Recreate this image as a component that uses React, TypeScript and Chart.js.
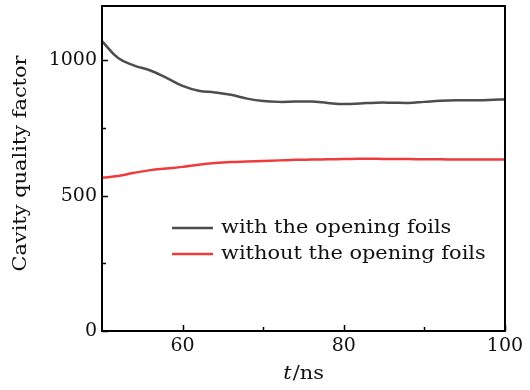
import React, { useEffect, useRef } from "react";
import { Chart, registerables } from "chart.js";

Chart.register(...registerables);

// Time samples (ns) and cavity quality factor for the two configurations
const tValues = [50, 52, 54, 56, 58, 60, 62, 64, 66, 68, 70, 72, 74, 76, 78, 80, 82, 84, 86, 88, 90, 92, 94, 96, 98, 100];
const withFoils = [1070, 1008, 980, 962, 935, 905, 887, 881, 872, 858, 849, 846, 847, 847, 842, 838, 840, 843, 843, 842, 846, 850, 852, 852, 853, 856];
const withoutFoils = [566, 572, 584, 594, 600, 606, 614, 620, 624, 626, 628, 630, 632, 633, 634, 635, 636, 636, 635, 635, 634, 634, 633, 633, 633, 633];

const seriesNames = ["with the opening foils", "without the opening foils"];
const seriesColors = ["#4d4d4d", "#ef3b3b"];

const xMajorTicks = [60, 80, 100];
const xMinorTicks = [70, 90];
const yMajorTicks = [0, 500, 1000];
const yMinorTicks = [250, 750];

const FONT = "'DejaVu Serif', serif";
const FONT_SIZE = 19;
const TEXT_STRETCH = 1.1;

const decorPlugin = {
  id: "decor",
  afterDraw(chart: any) {
    const { ctx, chartArea: a, scales } = chart;
    const xs = scales.x;
    const ys = scales.y;
    ctx.save();
    ctx.strokeStyle = "#000";
    ctx.lineWidth = 2;
    ctx.strokeRect(a.left, a.top, a.right - a.left, a.bottom - a.top);

    // inward ticks
    ctx.lineWidth = 1.5;
    ctx.beginPath();
    xMajorTicks.forEach((v) => {
      const px = Math.round(xs.getPixelForValue(v)) + 0.5;
      ctx.moveTo(px, a.bottom);
      ctx.lineTo(px, a.bottom - 6);
    });
    xMinorTicks.forEach((v) => {
      const px = Math.round(xs.getPixelForValue(v)) + 0.5;
      ctx.moveTo(px, a.bottom);
      ctx.lineTo(px, a.bottom - 4);
    });
    yMajorTicks.forEach((v) => {
      const py = Math.round(ys.getPixelForValue(v)) + 0.5;
      ctx.moveTo(a.left, py);
      ctx.lineTo(a.left + 6, py);
    });
    yMinorTicks.forEach((v) => {
      const py = Math.round(ys.getPixelForValue(v)) + 0.5;
      ctx.moveTo(a.left, py);
      ctx.lineTo(a.left + 4, py);
    });
    ctx.stroke();

    const normalFont = `${FONT_SIZE}px ${FONT}`;
    const italicFont = `italic ${FONT_SIZE}px ${FONT}`;

    // y-axis title
    ctx.fillStyle = "#111";
    ctx.textBaseline = "middle";
    ctx.save();
    ctx.translate(21, (a.top + a.bottom) / 2 - 5);
    ctx.rotate(-Math.PI / 2);
    ctx.scale(TEXT_STRETCH, 1);
    ctx.textAlign = "center";
    ctx.font = normalFont;
    ctx.fillText("Cavity quality factor", 0, 0);
    ctx.restore();

    // x-axis title: italic t followed by /ns
    ctx.font = italicFont;
    const wT = ctx.measureText("t").width;
    ctx.font = normalFont;
    const wRest = ctx.measureText("/ns").width;
    const total = (wT + 1 + wRest) * TEXT_STRETCH;
    const cx = (a.left + a.right) / 2;
    ctx.save();
    ctx.translate(cx - total / 2, 374);
    ctx.scale(TEXT_STRETCH, 1);
    ctx.textAlign = "left";
    ctx.font = italicFont;
    ctx.fillText("t", 0, 0);
    ctx.font = normalFont;
    ctx.fillText("/ns", wT + 1, 0);
    ctx.restore();

    // legend inside the plot area
    const legendX = a.left + 70;
    const legendY = [228, 254];
    seriesNames.forEach((name, i) => {
      ctx.strokeStyle = seriesColors[i];
      ctx.lineWidth = 2.5;
      ctx.beginPath();
      ctx.moveTo(legendX, legendY[i]);
      ctx.lineTo(legendX + 41, legendY[i]);
      ctx.stroke();
      ctx.save();
      ctx.translate(legendX + 49, legendY[i]);
      ctx.scale(TEXT_STRETCH, 1);
      ctx.fillStyle = "#111";
      ctx.textAlign = "left";
      ctx.font = normalFont;
      ctx.fillText(name, 0, 0);
      ctx.restore();
    });
    ctx.restore();
  },
};

export default function App() {
  const canvasRef = useRef<HTMLCanvasElement | null>(null);

  useEffect(() => {
    if (!canvasRef.current) return;
    const makeData = (ys: number[]) => tValues.map((t, i) => ({ x: t, y: ys[i] }));
    const chart = new Chart(canvasRef.current, {
      type: "line",
      data: {
        datasets: [
          {
            label: seriesNames[0],
            data: makeData(withFoils),
            borderColor: seriesColors[0],
            borderWidth: 2.5,
            pointRadius: 0,
            tension: 0.4,
            fill: false,
          },
          {
            label: seriesNames[1],
            data: makeData(withoutFoils),
            borderColor: seriesColors[1],
            borderWidth: 2.5,
            pointRadius: 0,
            tension: 0.4,
            fill: false,
          },
        ],
      },
      options: {
        animation: false,
        responsive: false,
        maintainAspectRatio: false,
        layout: { padding: { left: 0, top: 6, right: 25, bottom: 0 } },
        plugins: {
          legend: { display: false },
          tooltip: { enabled: false },
        },
        scales: {
          x: {
            type: "linear",
            min: 50,
            max: 100,
            grid: { display: false, drawTicks: false },
            border: { display: false },
            afterBuildTicks: (scale: any) => {
              scale.ticks = xMajorTicks.map((v) => ({ value: v }));
            },
            afterFit: (scale: any) => {
              scale.height = 59;
              scale.paddingLeft = 0;
              scale.paddingRight = 0;
            },
            ticks: {
              padding: 4,
              maxRotation: 0,
              color: "#111",
              font: { family: FONT, size: FONT_SIZE },
              callback: (v: any) => String(v),
            },
          },
          y: {
            type: "linear",
            min: 0,
            max: 1200,
            grid: { display: false, drawTicks: false },
            border: { display: false },
            afterBuildTicks: (scale: any) => {
              scale.ticks = yMajorTicks.map((v) => ({ value: v }));
            },
            afterFit: (scale: any) => {
              scale.width = 102;
              scale.paddingTop = 0;
              scale.paddingBottom = 0;
            },
            ticks: {
              padding: 5,
              color: "#111",
              font: { family: FONT, size: FONT_SIZE },
              callback: (v: any) => String(v),
            },
          },
        },
      },
      plugins: [decorPlugin],
    });
    return () => chart.destroy();
  }, []);

  return (
    <div style={{ position: "absolute", left: 0, top: 0, width: 530, height: 390, background: "#fff" }}>
      <canvas ref={canvasRef} width={530} height={390} />
    </div>
  );
}
